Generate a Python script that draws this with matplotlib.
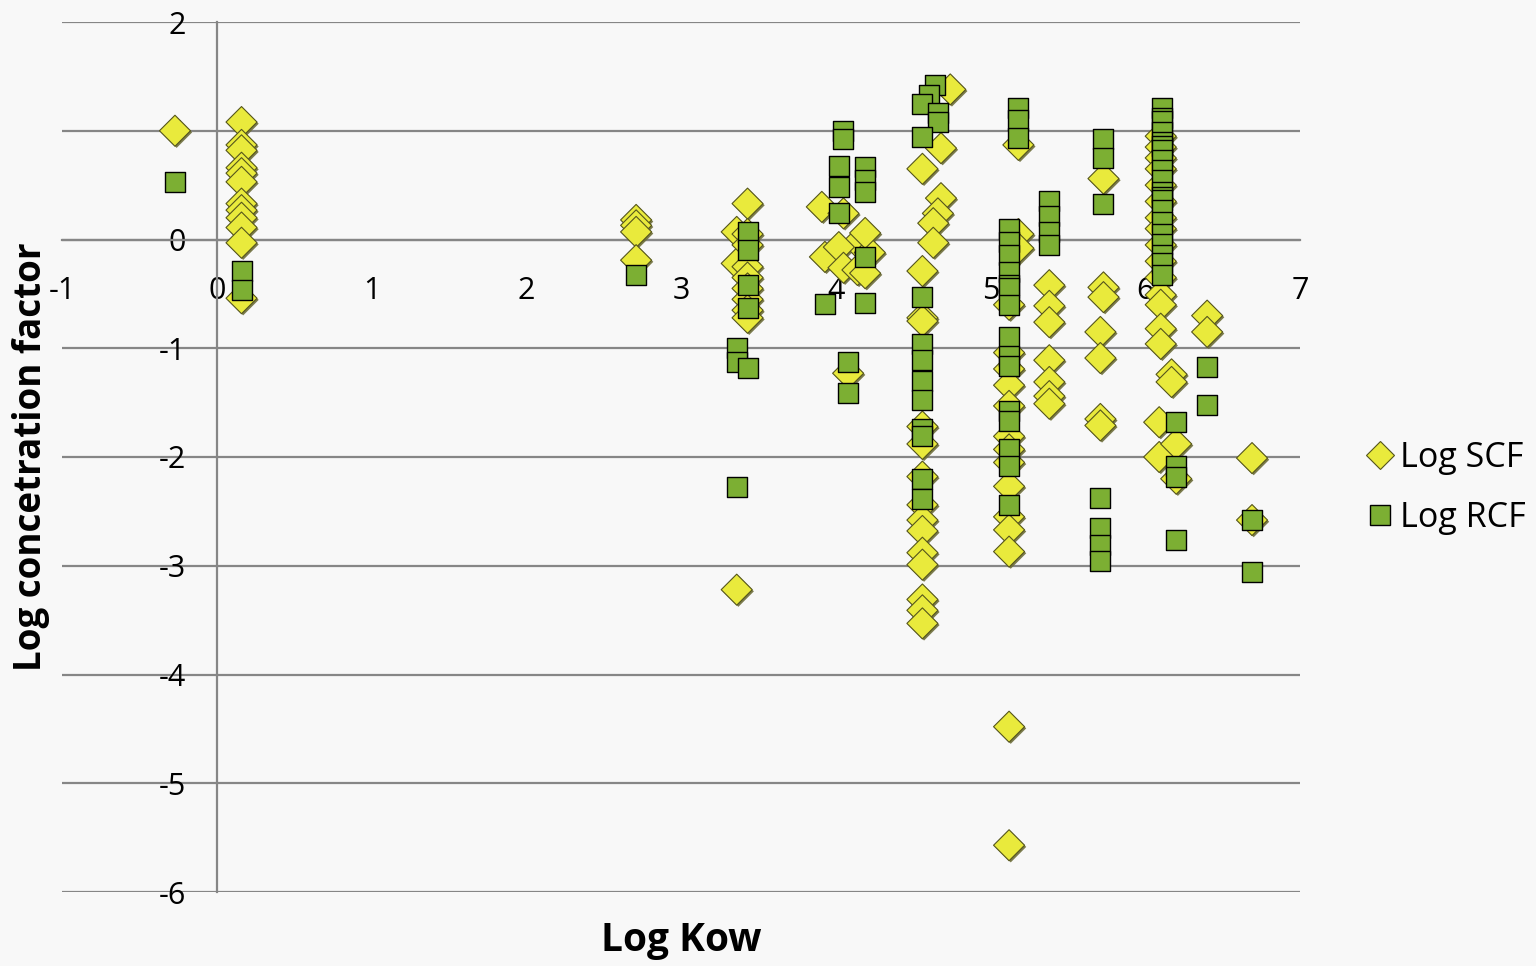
import numpy as np
import matplotlib
matplotlib.use("Agg")
import matplotlib.pyplot as plt
import matplotlib.patheffects as pe
from matplotlib.lines import Line2D

plt.rcParams['font.family'] = ['Open Sans', 'DejaVu Sans']

# Log SCF (shoot concentration factor) vs log Kow
scf_x = ([-0.27] + [0.16] * 12 + [2.71] * 4
         + [3.43, 3.36, 3.36] + [3.43] * 8 + [3.36]
         + [3.91, 4.05, 3.93, 4.14, 4.02, 4.05, 4.14, 4.22, 4.19, 4.19, 4.08]
         + [4.74, 4.68, 4.56, 4.68, 4.66, 4.63, 4.63, 4.56, 4.56, 4.56] + [4.56] * 11
         + [5.18] * 3 + [5.12] * 14 + [5.38] * 7
         + [5.73] * 3 + [5.71] * 4
         + [6.10] * 15 + [6.09, 6.09, 6.17, 6.17, 6.20, 6.20]
         + [6.40, 6.40, 6.69, 6.69])
scf_y = ([1.0]
         + [1.08, 0.87, 0.82, 0.66, 0.61, 0.53, 0.33, 0.27, 0.20, 0.11, -0.03, -0.54]
         + [0.18, 0.13, 0.07, -0.19]
         + [0.33, 0.07, -0.22, 0.05, -0.05, -0.25, -0.35, -0.45, -0.55, -0.65, -0.72, -3.22]
         + [0.30, 0.24, -0.16, -0.03, -0.07, -0.26, -0.28, -0.12, -0.31, 0.06, -1.23]
         + [1.38, 0.84, 0.65, 0.38, 0.24, 0.15, -0.03, -0.29, -0.72, -0.75]
         + [-1.72, -1.88, -2.18, -2.44, -2.58, -2.68, -2.88, -2.99, -3.31, -3.41, -3.53]
         + [0.87, 0.05, -0.08]
         + [-0.60, -1.04, -1.19, -1.34, -1.53, -1.81, -1.93, -2.05, -2.27, -2.55, -2.67,
            -2.87, -4.48, -5.57]
         + [-0.42, -0.61, -0.76, -1.11, -1.31, -1.44, -1.51]
         + [0.56, -0.44, -0.53, -0.85, -1.09, -1.65, -1.71]
         + [0.95, 0.85, 0.75, 0.65, 0.50, 0.35, 0.20, 0.10, -0.05, -0.20, -0.35, -0.51,
            -0.60, -0.82, -0.96]
         + [-1.68, -2.00, -1.24, -1.31, -1.88, -2.20]
         + [-0.70, -0.85, -2.01, -2.58])

# Log RCF (root concentration factor) vs log Kow
rcf_x = ([-0.27, 0.16, 0.16, 2.71]
         + [3.43] * 4 + [3.36, 3.36, 3.43, 3.36]
         + [4.05, 4.05, 4.02, 4.02, 4.02, 4.19, 4.19, 4.19, 4.19, 3.93, 4.19, 4.08, 4.08]
         + [4.64, 4.60, 4.56, 4.66, 4.66, 4.56] + [4.56] * 9
         + [5.18] * 3 + [5.12] * 15 + [5.38] * 4
         + [5.73] * 3 + [5.71] * 4
         + [6.11] * 20 + [6.20] * 4
         + [6.40, 6.40, 6.69, 6.69])
rcf_y = ([0.53, -0.29, -0.46, -0.33]
         + [0.07, -0.10, -0.42, -0.63, -1.00, -1.13, -1.18, -2.28]
         + [1.00, 0.92, 0.68, 0.48, 0.24, 0.67, 0.55, 0.44, -0.16, -0.59, -0.58, -1.13, -1.41]
         + [1.42, 1.33, 1.25, 1.16, 1.08, 0.94]
         + [-0.53, -0.96, -1.11, -1.30, -1.48, -1.74, -1.81, -2.20, -2.39]
         + [1.21, 1.10, 0.93]
         + [0.10, -0.02, -0.14, -0.30, -0.42, -0.45, -0.60, -0.90, -1.07, -1.16, -1.58,
            -1.67, -1.93, -2.08, -2.44]
         + [0.35, 0.22, 0.07, -0.05]
         + [0.92, 0.75, 0.33, -2.38, -2.65, -2.81, -2.96]
         + [1.21, 1.12, 1.09, 0.99, 0.90, 0.86, 0.82, 0.73, 0.64, 0.55, 0.44, 0.39, 0.36,
            0.27, 0.16, 0.05, -0.04, -0.14, -0.22, -0.33]
         + [-1.68, -2.08, -2.18, -2.76]
         + [-1.17, -1.52, -2.58, -3.06])

x_ticks = [-1, 0, 1, 2, 3, 4, 5, 6, 7]
y_ticks = [-6, -5, -4, -3, -2, -1, 0, 1, 2]

bg = '#f8f8f8'
grid_col = '#868686'
scf_col = '#e9ea3c'
scf_edge = '#55551c'
rcf_col = '#7caf33'

fig = plt.figure(figsize=(15.36, 9.66), dpi=100, facecolor=bg)
ax = fig.add_axes([62 / 1536, 74 / 966, 1238 / 1536, 870 / 966])
ax.set_facecolor(bg)

shadow = [pe.SimplePatchShadow(offset=(1.2, -1.2), shadow_rgbFace='#6d6d3a', alpha=0.9),
          pe.Normal()]
ax.scatter(scf_x, scf_y, marker='D', s=15.8 ** 2, c=scf_col, edgecolors=scf_edge,
           linewidths=0.8, zorder=3, path_effects=shadow)
ax.scatter(rcf_x, rcf_y, marker='s', s=14.4 ** 2, c=rcf_col, edgecolors='black',
           linewidths=1.0, zorder=4)

ax.set_xlim(-1, 7)
ax.set_ylim(-6, 2)
ax.set_xticks(x_ticks)
ax.set_yticks(y_ticks)
ax.set_xticklabels([str(v) for v in x_ticks])
ax.set_yticklabels([str(v) for v in y_ticks])

for s in ['top', 'right']:
    ax.spines[s].set_visible(False)
ax.spines['left'].set_position(('data', 0))
ax.spines['bottom'].set_position(('data', 0))
for s in ['left', 'bottom']:
    ax.spines[s].set_color(grid_col)
    ax.spines[s].set_linewidth(1.6)
    ax.spines[s].set_zorder(1)

ax.yaxis.grid(True, color=grid_col, linewidth=1.6, zorder=0)
ax.set_axisbelow(True)
ax.tick_params(axis='x', length=0, pad=26, labelsize=22)
ax.tick_params(axis='y', length=0, pad=22, labelsize=22)

fig.text(681 / 1536, 1 - 940 / 966, 'Log Kow', ha='center', va='center',
         fontsize=28, fontweight='bold')
fig.text(31 / 1536, 1 - 457 / 966, 'Log concetration factor', ha='center', va='center',
         rotation=90, fontsize=26.5, fontweight='bold')

handles = [
    Line2D([], [], linestyle='none', marker='D', markersize=14, markerfacecolor=scf_col,
           markeredgecolor=scf_edge, markeredgewidth=0.8),
    Line2D([], [], linestyle='none', marker='s', markersize=15, markerfacecolor=rcf_col,
           markeredgecolor='black', markeredgewidth=1.0),
]
fig.legend(handles, ['Log SCF', 'Log RCF'], loc='center left',
           bbox_to_anchor=(1346 / 1536, 1 - 488 / 966), frameon=False, fontsize=24.5,
           handletextpad=0.1, handlelength=1.0, labelspacing=0.75, borderpad=0)

fig.savefig('out.png', dpi=100, facecolor=bg)
